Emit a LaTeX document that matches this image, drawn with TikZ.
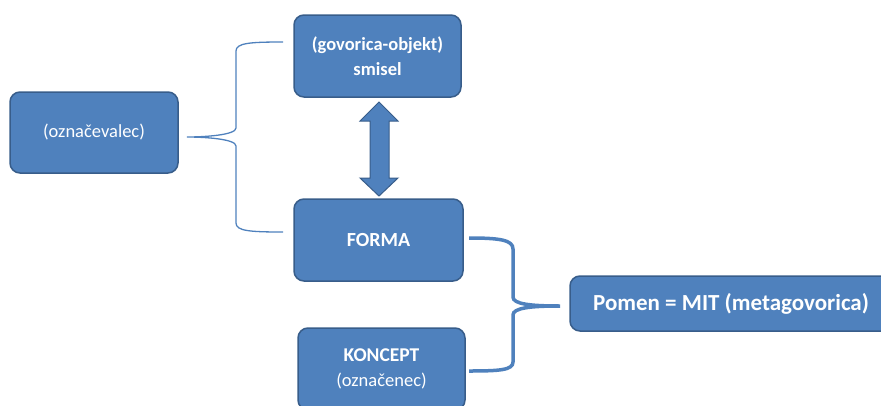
\documentclass[tikz,border=0pt]{standalone}
\usepackage{fontspec}
\setmainfont{Carlito}
\definecolor{boxfill}{HTML}{4F81BD}
\definecolor{boxdraw}{HTML}{385D8A}
\definecolor{bracecol}{HTML}{4F81BD}
\begin{document}
\begin{tikzpicture}[x=1pt,y=-1pt,
  box/.style={draw=boxdraw,line width=1.5pt,fill=boxfill,rounded corners=10pt,text=white,align=center,inner sep=0pt},
  thinbrace/.style={draw=bracecol,line width=1.3pt},
  thickbrace/.style={draw=bracecol,line width=3.5pt}]
\useasboundingbox (0,0) rectangle (881,405);
\begin{scope}
\clip (0,0) rectangle (881,405);
\node[box,minimum width=168pt,minimum height=81pt,font=\fontsize{18.5}{22}\selectfont] (oz) at (94,132.5) {(označevalec)};
\node[box,minimum width=167pt,minimum height=82pt,font=\bfseries\fontsize{18.5}{25}\selectfont] (sm) at (377.5,56) {(govorica-objekt)\\smisel};
\node[box,minimum width=169pt,minimum height=82pt,font=\bfseries\fontsize{20}{24}\selectfont] (fo) at (378.5,240) {FORMA};
\node[box,minimum width=167pt,minimum height=82pt,font=\fontsize{18.5}{25}\selectfont] (ko) at (381.5,369) {{\bfseries\fontsize{19.5}{25}\selectfont KONCEPT}\\(označenec)};
\node[box,minimum width=325pt,minimum height=55pt] (po) at (732.5,303.5) {};
\node[text=white,font=\bfseries\fontsize{23}{27}\selectfont,anchor=west,inner sep=0pt] (pot) at (593,303.5) {Pomen = MIT (metagovorica)};
\end{scope}
% double arrow
\path[fill=boxfill,draw=boxdraw,line width=1pt]
  (379,102) -- (398,121) -- (389,121) -- (389,178) -- (398,178) -- (379,196)
  -- (360,178) -- (370,178) -- (370,121) -- (360,121) -- cycle;
% named free ends
\coordinate (t1) at (283,42);
\coordinate (t2) at (187,137);
\coordinate (t3) at (283,232);
\coordinate (k1) at (469,238);
\coordinate (k2) at (560,306);
\coordinate (k3) at (469,371);
\draw[thinbrace] (t1) .. controls (250,42) and (236,43) .. (236,51) -- (236,128)
  .. controls (236,135) and (205,137) .. (t2)
  .. controls (205,137) and (236,139) .. (236,146) -- (236,223)
  .. controls (236,231) and (250,232) .. (t3);
\draw[thickbrace] (k1) .. controls (500,238) and (513,240) .. (513,249) -- (513,297)
  .. controls (513,304) and (530,306) .. (k2)
  .. controls (530,306) and (513,308) .. (513,315) -- (513,362)
  .. controls (513,370) and (500,371) .. (k3);
\end{tikzpicture}
\end{document}
